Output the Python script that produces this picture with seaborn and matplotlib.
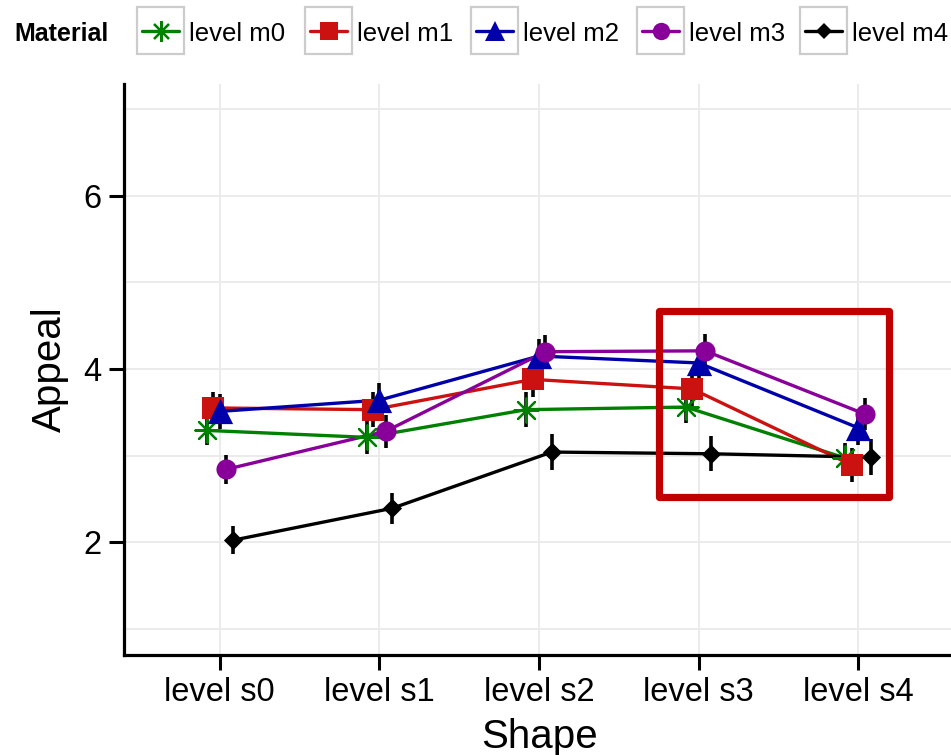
import numpy as np
import pandas as pd
import matplotlib
matplotlib.use("Agg")
import matplotlib.pyplot as plt
from matplotlib.patches import Rectangle
from matplotlib.lines import Line2D
import seaborn as sns

# ---------------- data ----------------
shapes = ["level s0", "level s1", "level s2", "level s3", "level s4"]
materials = ["level m0", "level m1", "level m2", "level m3", "level m4"]

m0 = [3.29, 3.21, 3.53, 3.56, 2.97]
m1 = [3.55, 3.53, 3.88, 3.77, 2.89]
m2 = [3.51, 3.64, 4.15, 4.07, 3.32]
m3 = [2.84, 3.28, 4.20, 4.21, 3.48]
m4 = [2.02, 2.39, 3.04, 3.02, 2.98]

e0 = [0.17, 0.19, 0.20, 0.18, 0.17]
e1 = [0.18, 0.20, 0.20, 0.20, 0.20]
e2 = [0.20, 0.20, 0.20, 0.20, 0.20]
e3 = [0.17, 0.19, 0.19, 0.20, 0.19]
e4 = [0.16, 0.18, 0.21, 0.20, 0.21]

y_ticks = [2, 4, 6]
y_minor = [1, 3, 5, 7]
y_limits = (0.7, 7.3)

highlight_x = (2.75, 4.19)
highlight_y = (2.52, 4.67)

# ---------------- styles ----------------
colors = ["#008000", "#CC1111", "#0000AA", "#880099", "#000000"]
markers = [(8, 2, 0), "s", "^", "o", "D"]
msizes = [300, 250, 330, 210, 95]          # scatter sizes (pt^2)
leg_msizes = [15, 12.5, 15, 12.5, 8.5]      # legend marker sizes (pt)
dodge = 0.16

sns.set_theme(style="white")
plt.rcParams["font.family"] = ["Liberation Sans", "DejaVu Sans"]
plt.rcParams["text.color"] = "black"
plt.rcParams["axes.labelcolor"] = "black"
plt.rcParams["xtick.color"] = "black"
plt.rcParams["ytick.color"] = "black"

W, H = 951, 755
fig = plt.figure(figsize=(W / 100, H / 100), dpi=100)

def fx(px):
    return px / W

def fy(py):
    return 1 - py / H

ax_left, ax_right, ax_top, ax_bottom = 124, 954, 83.5, 654.5
ax = fig.add_axes([fx(ax_left), fy(ax_bottom), fx(ax_right - ax_left), (ax_bottom - ax_top) / H])

values = [m0, m1, m2, m3, m4]
errors = [e0, e1, e2, e3, e4]
offsets = np.linspace(-dodge / 2, dodge / 2, len(materials))

rows = []
for mi, (mat, vals, errs) in enumerate(zip(materials, values, errors)):
    for si, (sh, v, e) in enumerate(zip(shapes, vals, errs)):
        rows.append({"Material": mat, "Shape": sh, "x": si + offsets[mi], "Appeal": v, "err": e})
df = pd.DataFrame(rows)

for mi, mat in enumerate(materials):
    sub = df[df["Material"] == mat]
    sns.lineplot(data=sub, x="x", y="Appeal", color=colors[mi], lw=2.4,
                 estimator=None, sort=True, ax=ax, zorder=2, legend=False)
    ax.errorbar(sub["x"], sub["Appeal"], yerr=sub["err"], fmt="none",
                ecolor="black", elinewidth=2.6, capsize=0, zorder=3)
for mi, mat in enumerate(materials):
    sub = df[df["Material"] == mat]
    if mi == 0:
        sns.scatterplot(data=sub, x="x", y="Appeal", marker=markers[mi], s=msizes[mi],
                        color=colors[mi], edgecolor=colors[mi], linewidth=1.6,
                        ax=ax, zorder=4, legend=False)
    else:
        sns.scatterplot(data=sub, x="x", y="Appeal", marker=markers[mi], s=msizes[mi],
                        color=colors[mi], linewidth=0, ax=ax, zorder=4, legend=False)

# highlight box
rect = Rectangle((highlight_x[0], highlight_y[0]),
                 highlight_x[1] - highlight_x[0], highlight_y[1] - highlight_y[0],
                 fill=False, edgecolor="#C00000", lw=5.2, joinstyle="round",
                 zorder=6, clip_on=False)
ax.add_patch(rect)

# axes styling
ax.set_xlim(-0.6, 4.6)
ax.set_ylim(*y_limits)
ax.set_xticks(range(len(shapes)))
ax.set_xticklabels(shapes)
ax.set_yticks(y_ticks)
ax.set_yticks(y_minor, minor=True)
ax.grid(True, which="major", color="#EBEBEB", lw=1.4)
ax.grid(True, which="minor", axis="y", color="#EBEBEB", lw=1.4)
ax.set_axisbelow(True)
for s in ["top", "right"]:
    ax.spines[s].set_visible(False)
for s in ["left", "bottom"]:
    ax.spines[s].set_color("black")
    ax.spines[s].set_linewidth(2.3)
ax.tick_params(axis="both", which="major", length=10.5, width=2.2, color="black",
               labelsize=23.5, labelcolor="black", pad=6, bottom=True, left=True)
ax.tick_params(axis="y", which="minor", length=0)
ax.set_xlabel("Shape", fontsize=29, color="black", va="baseline")
ax.set_ylabel("Appeal", fontsize=29, color="black", va="baseline")
ax.xaxis.set_label_coords(0.5, (ax_bottom - 748) / (ax_bottom - ax_top))
ax.yaxis.set_label_coords((61 - ax_left) / (ax_right - ax_left), 0.5)

# ---------------- legend (ggplot style) ----------------
fig.text(fx(14), fy(41), "Material", fontsize=18, fontweight="bold", va="baseline", ha="left",
         color="black")
box_lefts = [137, 305, 471, 637, 800]
box_w, box_top, box_h = 47, 7, 47
for mi, mat in enumerate(materials):
    bl = box_lefts[mi]
    fig.patches.append(Rectangle((fx(bl), fy(box_top + box_h)), fx(box_w), box_h / H,
                                 transform=fig.transFigure, fill=True, facecolor="white",
                                 edgecolor="#CCCCCC", lw=1.6))
    cy = fy(box_top + box_h / 2)
    fig.lines.append(Line2D([fx(bl + 5), fx(bl + box_w - 5)], [cy, cy], transform=fig.transFigure,
                            color=colors[mi], lw=2.4))
    if mi == 0:
        fig.lines.append(Line2D([fx(bl + box_w / 2)], [cy], transform=fig.transFigure,
                                marker=markers[mi], markersize=leg_msizes[mi], color=colors[mi],
                                markeredgewidth=1.6, lw=0))
    else:
        fig.lines.append(Line2D([fx(bl + box_w / 2)], [cy], transform=fig.transFigure,
                                marker=markers[mi], markersize=leg_msizes[mi], color=colors[mi],
                                markeredgewidth=0, lw=0))
    fig.text(fx(bl + box_w + 5), fy(41), mat, fontsize=18.5, va="baseline", ha="left",
             color="black")

fig.savefig("out.png", dpi=100, facecolor="white")
